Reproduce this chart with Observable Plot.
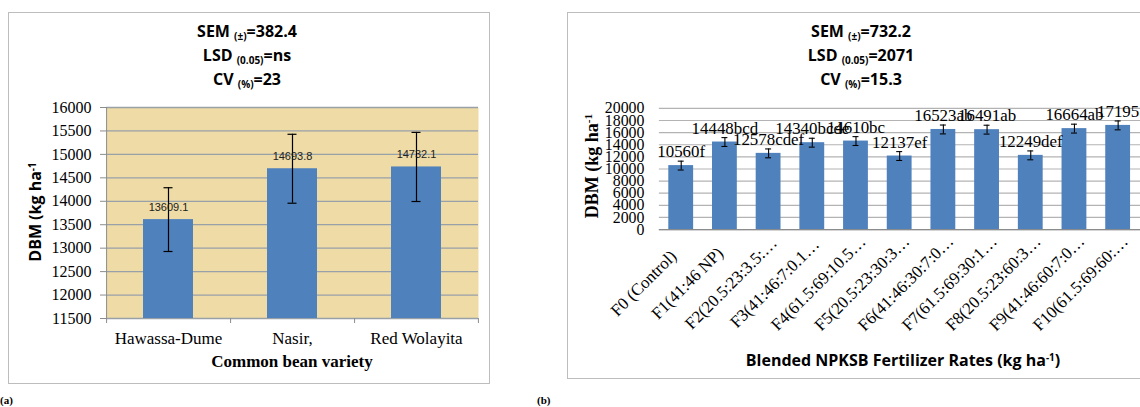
<!DOCTYPE html>
<html><head><meta charset="utf-8">
<script src="https://cdn.jsdelivr.net/npm/d3@7"></script>
<script src="https://cdn.jsdelivr.net/npm/@observablehq/plot@0.6"></script>
<style>
html,body{margin:0;padding:0;background:#fff;overflow:hidden;width:1140px;height:407px}
#root{position:relative;width:1140px;height:407px;overflow:hidden}
.panel{position:absolute;border:1.5px solid #BDBDBD;box-sizing:border-box}
.title{position:absolute;font-family:"Open Sans",sans-serif;font-weight:700;font-size:16px;color:#000;text-align:center;white-space:nowrap;line-height:24px;transform:translateX(-50%)}
.title sub{font-size:10px;line-height:0;vertical-align:-3px}
.lab{position:absolute;white-space:nowrap;color:#000;line-height:1}
.lab sup{font-size:0.62em;line-height:0;vertical-align:0.55em}
.chart{position:absolute}
.chart svg{overflow:visible}
</style></head><body><div id="root"></div>
<script>
// ---- Panel (a) data ----
const varieties = ["Hawassa-Dume", "Nasir,", "Red Wolayita"];
const dbmA = [13609.1, 14693.8, 14732.1];
const errA = [680, 735, 737];
const labelsA = ["13609.1", "14693.8", "14732.1"];
const yTicksA = [11500, 12000, 12500, 13000, 13500, 14000, 14500, 15000, 15500, 16000];

// ---- Panel (b) data ----
const rates = ["F0 (Control)", "F1(41:46 NP)", "F2(20.5:23:3.5:…", "F3(41:46:7:0.1…", "F4(61.5:69:10.5…",
  "F5(20.5:23:30:3…", "F6(41:46:30:7:0…", "F7(61.5:69:30:1…", "F8(20.5:23:60:3…", "F9(41:46:60:7:0…", "F10(61.5:69:60:…"];
const dbmB = [10560, 14448, 12578, 14340, 14610, 12137, 16523, 16491, 12249, 16664, 17195];
const lettersB = ["f", "bcd", "cdef", "bcde", "bc", "ef", "ab", "ab", "def", "ab", ""];
const errB = [732.2, 732.2, 732.2, 732.2, 732.2, 732.2, 732.2, 732.2, 732.2, 732.2, 732.2];
const yTicksB = [0, 2000, 4000, 6000, 8000, 10000, 12000, 14000, 16000, 18000, 20000];

const root = document.getElementById("root");
function add(html, style, cls) {
  const d = document.createElement("div");
  d.className = cls; d.innerHTML = html; Object.assign(d.style, style); root.appendChild(d); return d;
}

// panel frames
add("", {left: "8px", top: "12px", width: "482px", height: "372px"}, "panel");
add("", {left: "567px", top: "12px", width: "600px", height: "367px"}, "panel");

// titles
add("SEM <sub>(±)</sub>=382.4<br>LSD <sub>(0.05)</sub>=ns<br>CV <sub>(%)</sub>=23", {left: "247px", top: "19px"}, "title");
add("SEM <sub>(±)</sub>=732.2<br>LSD <sub>(0.05)</sub>=2071<br>CV <sub>(%)</sub>=15.3", {left: "861px", top: "19px"}, "title");

// ---- Chart (a) ----
const dataA = varieties.map((v, i) => ({v, y: dbmA[i], e: errA[i], lab: labelsA[i]}));
const stepA = 371.5 / 3;
const plotA = Plot.plot({
  width: 480, height: 290,
  marginLeft: 98, marginRight: 10, marginTop: 12, marginBottom: 67,
  style: {fontFamily: "'Liberation Serif', serif", fontSize: "16px", background: "transparent", color: "#000"},
  x: {domain: varieties, paddingInner: 0.6, paddingOuter: 0.3, label: null},
  y: {domain: [11500, 16000], label: null},
  marks: [
    Plot.frame({fill: "#EEDBA6", stroke: "none"}),
    Plot.ruleY(yTicksA, {stroke: "#98A0A8", strokeWidth: 1.3}),
    Plot.ruleX([varieties[0]], {x: d => d, dx: -stepA / 2, y1: 11500, y2: 16000, stroke: "#8C8C8C"}),
    Plot.ruleX(varieties, {x: d => d, dx: -stepA / 2, y1: 11500, y2: 11500, insetBottom: -5, stroke: "#8C8C8C"}),
    Plot.ruleX([varieties[2]], {x: d => d, dx: stepA / 2, y1: 11500, y2: 11500, insetBottom: -5, stroke: "#8C8C8C"}),
    Plot.barY(dataA, {x: "v", y1: 11500, y2: "y", fill: "#4F81BD"}),
    Plot.ruleX(dataA, {x: "v", y1: d => d.y - d.e, y2: d => d.y + d.e, stroke: "#000", strokeWidth: 1.2}),
    Plot.tickY(dataA, {x: "v", y: d => d.y + d.e, insetLeft: 20.5, insetRight: 20.5, stroke: "#000", strokeWidth: 1.2}),
    Plot.tickY(dataA, {x: "v", y: d => d.y - d.e, insetLeft: 20.5, insetRight: 20.5, stroke: "#000", strokeWidth: 1.2}),
    Plot.text(dataA, {x: "v", y: "y", text: "lab", dy: -12, fontSize: 11, fontFamily: "'Liberation Sans', sans-serif", fill: "#222"}),
    Plot.axisY({ticks: yTicksA, tickFormat: d => String(d), tickSize: 6, tickPadding: 9, stroke: "#8C8C8C", fill: "#000", fontSize: 16, label: null}),
    Plot.axisX({tickSize: 0, tickPadding: 13, fill: "#000", fontSize: 17, label: null})
  ]
});
const ca = document.createElement("div"); ca.className = "chart"; ca.style.left = "8px"; ca.style.top = "95px";
ca.appendChild(plotA); root.appendChild(ca);

add("DBM (kg ha<sup>-1</sup>", {left: "35px", top: "212px", transform: "translate(-50%,-50%) rotate(-90deg)",
  fontFamily: "'Open Sans', sans-serif", fontWeight: "700", fontSize: "16px"}, "lab");
add("Common bean variety", {left: "292px", top: "361px", transform: "translate(-50%,-50%)",
  fontFamily: "'Liberation Serif', serif", fontWeight: "700", fontSize: "17px"}, "lab");

// ---- Chart (b) ----
const dataB = rates.map((r, i) => ({r, y: dbmB[i], e: errB[i], lab: String(dbmB[i]) + lettersB[i]}));
const plotB = Plot.plot({
  width: 577, height: 285,
  marginLeft: 92.5, marginRight: 0, marginTop: 13, marginBottom: 150,
  style: {fontFamily: "'Liberation Serif', serif", fontSize: "16px", background: "transparent", color: "#000"},
  x: {domain: rates, paddingInner: 0.43, paddingOuter: 0.215, axis: null, label: null},
  y: {domain: [0, 20000], label: null},
  marks: [
    Plot.ruleY(yTicksB, {stroke: "#B3B3B3", strokeWidth: 1.2}),
    Plot.ruleY([0], {stroke: "#8C8C8C", strokeWidth: 1.3}),
    Plot.barY(dataB, {x: "r", y: "y", fill: "#4F81BD"}),
    Plot.ruleX(dataB, {x: "r", y1: d => d.y - d.e, y2: d => d.y + d.e, stroke: "#000", strokeWidth: 1.1}),
    Plot.tickY(dataB, {x: "r", y: d => d.y + d.e, insetLeft: 9.5, insetRight: 9.5, stroke: "#000", strokeWidth: 1.1}),
    Plot.tickY(dataB, {x: "r", y: d => d.y - d.e, insetLeft: 9.5, insetRight: 9.5, stroke: "#000", strokeWidth: 1.1}),
    Plot.text(dataB, {x: "r", y: "y", text: "lab", dy: -14, fontSize: 17, fill: "#000"}),
    Plot.axisY({ticks: yTicksB, tickFormat: d => String(d), tickSize: 0, tickPadding: 15, fill: "#000", fontSize: 16, label: null}),
    Plot.text(rates, {x: d => d, frameAnchor: "bottom", rotate: -45, textAnchor: "middle", dx: -34, dy: 58, fontSize: 17, fill: "#000"})
  ]
});
const cb = document.createElement("div"); cb.className = "chart"; cb.style.left = "567px"; cb.style.top = "95px";
cb.appendChild(plotB); root.appendChild(cb);

add("DBM (kg ha<sup>-1</sup>", {left: "592px", top: "166px", transform: "translate(-50%,-50%) rotate(-90deg)",
  fontFamily: "'Liberation Serif', serif", fontWeight: "700", fontSize: "18px"}, "lab");
add("Blended NPKSB Fertilizer Rates (kg ha<sup>-1</sup>)", {left: "903px", top: "360px", transform: "translate(-50%,-50%)",
  fontFamily: "'Open Sans', sans-serif", fontWeight: "700", fontSize: "16px"}, "lab");

// panel labels
add("(a)", {left: "0px", top: "395px", fontFamily: "'Liberation Serif', serif", fontWeight: "700", fontSize: "11px"}, "lab");
add("(b)", {left: "537px", top: "395px", fontFamily: "'Liberation Serif', serif", fontWeight: "700", fontSize: "11px"}, "lab");
</script></body></html>
